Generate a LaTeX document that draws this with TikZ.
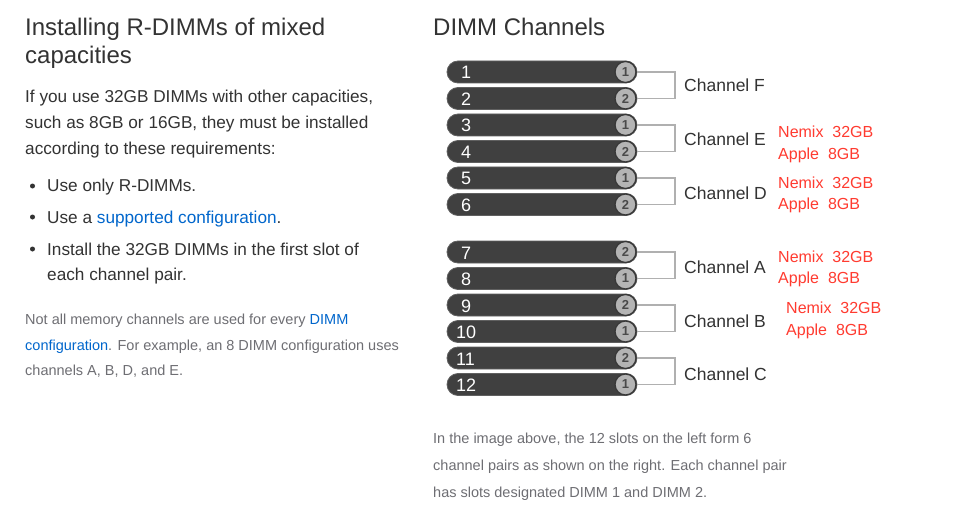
\documentclass[tikz,border=0pt]{standalone}
\usepackage{fontspec}
\setmainfont{Liberation Sans}
\begin{document}
\begin{tikzpicture}[x=1pt,y=-1pt,
  txt/.style={anchor=base west, inner sep=0pt, text=textdark},
  title/.style={txt, font=\fontsize{24}{28}\selectfont},
  body/.style={txt, font=\fontsize{17.2}{20}\selectfont},
  small/.style={txt, text=textgray, font=\fontsize{14.5}{17}\selectfont},
  bar/.style={rectangle, rounded corners=11pt, fill=bardark, draw=baredge, line width=0.8pt, minimum width=190pt, minimum height=22pt, inner sep=0pt},
  barnum/.style={anchor=base west, inner sep=0pt, text=white, font=\fontsize{18}{20}\selectfont},
  slot/.style={circle, fill=slotfill, draw=slotedge, line width=1.3pt, minimum size=21pt, inner sep=0pt, text=slottext, font=\fontsize{13}{14}\selectfont\bfseries},
  bracket/.style={draw=brack, line width=1.6pt},
  chan/.style={txt, font=\fontsize{17.5}{20}\selectfont},
  note/.style={anchor=base west, inner sep=0pt, text=notered, font=\fontsize{16}{18}\selectfont},
  bul/.style={circle, fill=textdark, inner sep=0pt, minimum size=5pt}
]
\definecolor{textdark}{HTML}{333333}
\definecolor{textgray}{HTML}{6E6E73}
\definecolor{link}{HTML}{0066CC}
\definecolor{bardark}{HTML}{404040}
\definecolor{baredge}{HTML}{606060}
\definecolor{slotfill}{HTML}{B4B4B4}
\definecolor{slotedge}{HTML}{383838}
\definecolor{slottext}{HTML}{4A4A4A}
\definecolor{brack}{HTML}{B0B0B0}
\definecolor{notered}{HTML}{FF3B30}
\useasboundingbox[fill=white] (0,0) rectangle (956,508);

% left column
\node[title] (t1) at (25,36) {Installing R-DIMMs of mixed};
\node[title] (t2) at (25,64) {capacities};
\node[body] (p1) at (25,103) {If you use 32GB DIMMs with other capacities,};
\node[body] (p2) at (25,129) {such as 8GB or 16GB, they must be installed};
\node[body] (p3) at (25,155) {according to these requirements:};
\node[bul] (d1) at (32.5,186) {};
\node[bul] (d2) at (32.5,217) {};
\node[bul] (d3) at (32.5,249) {};
\node[body] (l1) at (47,192) {Use only R-DIMMs.};
\node[body] (l2) at (47,223) {Use a \textcolor{link}{supported configuration}.};
\node[body] (l3) at (47,255) {Install the 32GB DIMMs in the first slot of};
\node[body] (l4) at (47,280) {each channel pair.};
\node[small] (s1t) at (25,324) {Not all memory channels are used for every \textcolor{link}{DIMM}};
\node[small] (s2t) at (25,350) {\textcolor{link}{configuration}. For example, an 8 DIMM configuration uses};
\node[small] (s3t) at (25,375) {channels A, B, D, and E.};

% right column
\node[title] (rt) at (433,36) {DIMM Channels};
\node[small] (c1) at (433,443) {In the image above, the 12 slots on the left form 6};
\node[small] (c2) at (433,470) {channel pairs as shown on the right. Each channel pair};
\node[small] (c3) at (433,497) {has slots designated DIMM 1 and DIMM 2.};

% bars
\foreach \i/\y/\s in {1/72/1, 2/98.5/2, 3/125/1, 4/151.5/2, 5/178/1, 6/204.5/2,
                      7/252/2, 8/278.5/1, 9/305/2, 10/331.5/1, 11/358/2, 12/384.5/1} {
  \node[bar] (b\i) at (542,\y) {};
  \node[slot] (s\i) at (625.5,\y) {\s};
}
\foreach \i/\y in {1/72, 2/98.5, 3/125, 4/151.5, 5/178, 6/204.5, 7/252, 8/278.5, 9/305} {
  \node[barnum] (n\i) at (461,\y+7) {\i};
}
\foreach \i/\y in {10/331.5, 11/358, 12/384.5} {
  \node[barnum] (n\i) at (456,\y+7) {\i};
}

% brackets
\coordinate (jF) at (675,85);
\coordinate (jE) at (675,138);
\coordinate (jD) at (675,191);
\coordinate (jA) at (675,265);
\coordinate (jB) at (675,318);
\coordinate (jC) at (675,371);
\draw[bracket] (s1.east) -| (jF) |- (s2.east);
\draw[bracket] (s3.east) -| (jE) |- (s4.east);
\draw[bracket] (s5.east) -| (jD) |- (s6.east);
\draw[bracket] (s7.east) -| (jA) |- (s8.east);
\draw[bracket] (s9.east) -| (jB) |- (s10.east);
\draw[bracket] (s11.east) -| (jC) |- (s12.east);

\node[chan] (chF) at (684,92) {Channel F};
\node[chan] (chE) at (684,146) {Channel E};
\node[chan] (chD) at (684,200) {Channel D};
\node[chan] (chA) at (684,273) {Channel A};
\node[chan] (chB) at (684,327) {Channel B};
\node[chan] (chC) at (684,380) {Channel C};

% red notes
\node[note] (e1) at (778,138) {Nemix\ \ 32GB};
\node[note] (e2) at (778,160) {Apple\ \ 8GB};
\node[note] (d1n) at (778,188) {Nemix\ \ 32GB};
\node[note] (d2n) at (778,209) {Apple\ \ 8GB};
\node[note] (a1) at (778,262) {Nemix\ \ 32GB};
\node[note] (a2) at (778,283) {Apple\ \ 8GB};
\node[note] (bb1) at (786,313) {Nemix\ \ 32GB};
\node[note] (bb2) at (786,335) {Apple\ \ 8GB};
\end{tikzpicture}
\end{document}
